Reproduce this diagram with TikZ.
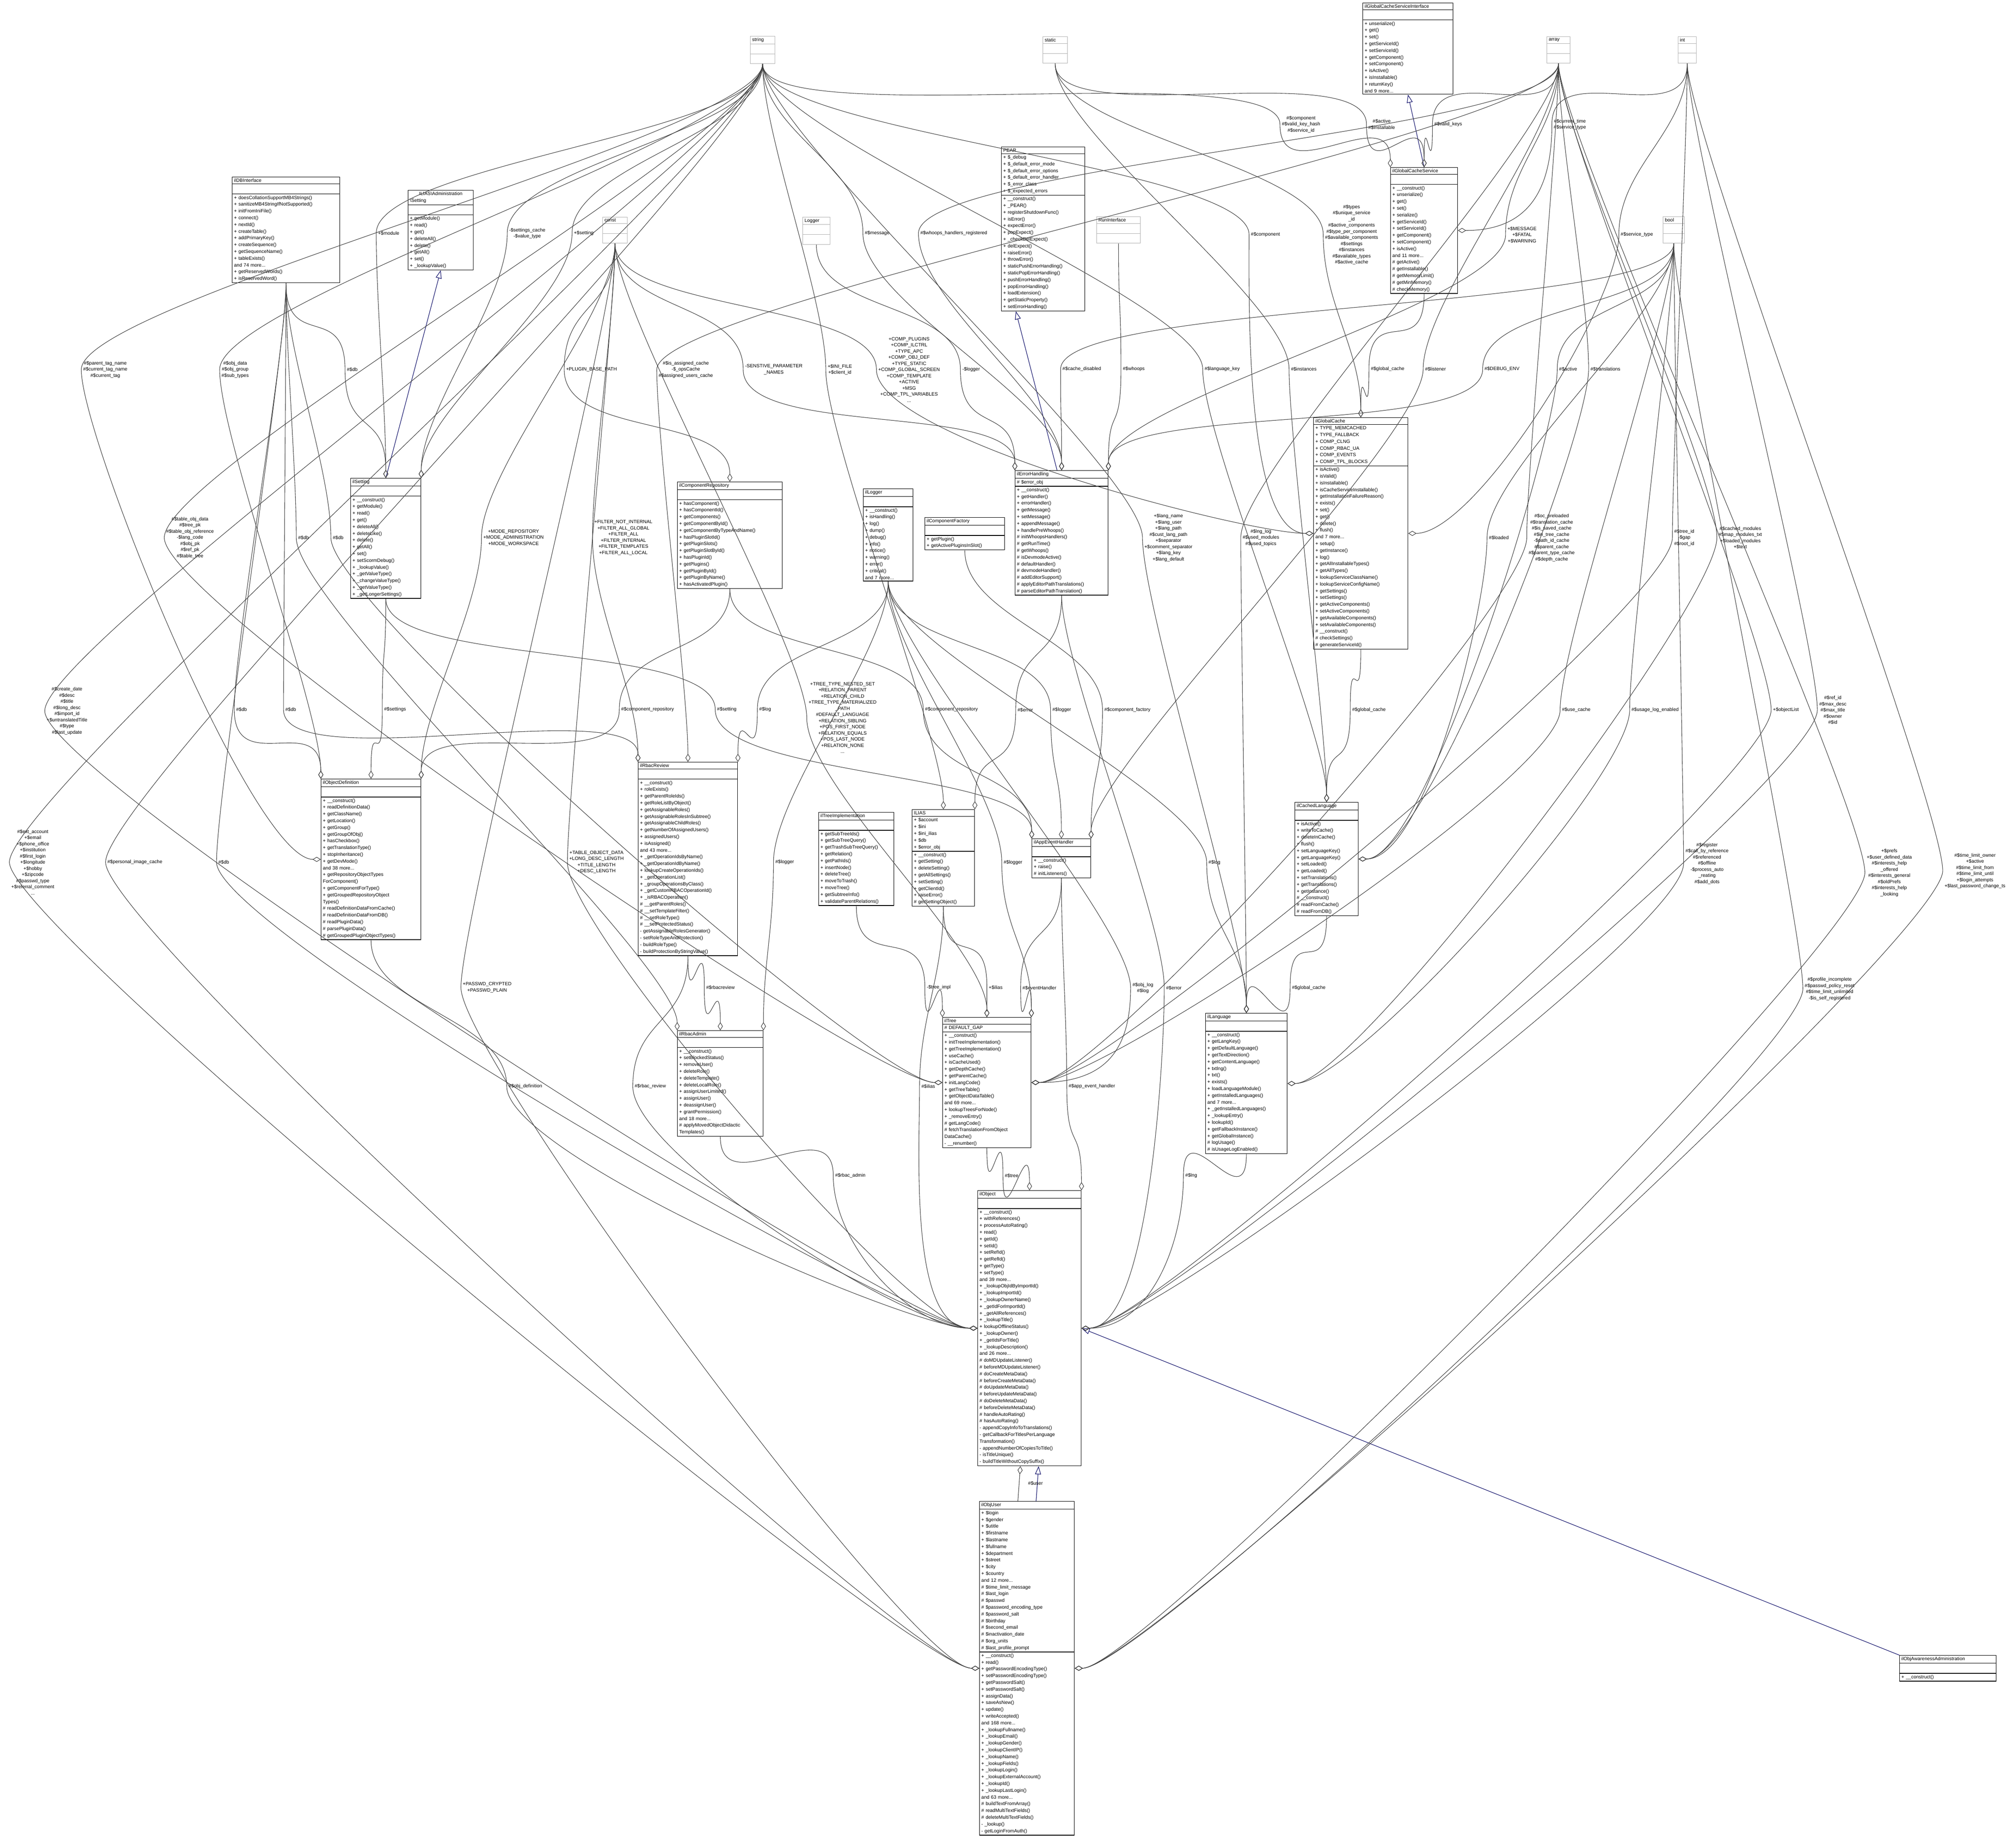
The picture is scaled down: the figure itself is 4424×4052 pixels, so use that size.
\documentclass[tikz,border=0pt]{standalone}
\usepackage{fontspec}
\setmainfont{Liberation Sans}
\usetikzlibrary{shapes.multipart,arrows.meta}
\definecolor{edgec}{HTML}{404040}
\definecolor{inh}{HTML}{191970}
\tikzset{
 cls/.style={draw=black,line width=1.3pt,rectangle split,rectangle split parts=3,anchor=north west,inner xsep=4pt,inner ysep=3pt,font=\fontsize{10.5}{14.8}\selectfont,align=left,fill=white},
 typ/.style={cls,draw=gray!60,line width=1pt},
 lbl/.style={font=\fontsize{10.5}{13.5}\selectfont,align=center,inner sep=1pt},
 agg/.style={draw=edgec,line width=1.1pt,-{Diamond[open,length=18pt,width=11pt]}},
 inhe/.style={draw=inh,line width=1.2pt,-{Triangle[open,length=18pt,width=13pt]}},
}
\newcommand{\cls}[8][cls]{\node[#1,text width=#5pt] (#2) at (#3,-#4) {\centering #6\nodepart{two}#7\nodepart{three}#8};}
\newcommand{\ed}[7]{\node[lbl] (#4) at (#5,-#6) {#7};\draw[agg] (#1) .. controls +(0,-150) and +(0,150) .. ([xshift=-3pt]#4.west) .. controls +(0,-150) and +(#3) .. (#2);}
\begin{document}
\begin{tikzpicture}[x=1pt,y=1pt]
\path[use as bounding box,fill=white] (0,0) rectangle (4424,-4052);
% type boxes
\cls[typ]{string}{1646}{79}{46}{string}{\strut}{\strut}
\cls[typ]{static}{2288}{80}{46}{static}{\strut}{\strut}
\cls[typ]{array}{3394}{80}{43}{array}{\strut}{\strut}
\cls[typ]{int}{3682}{80}{32}{int}{\strut}{\strut}
\cls[typ]{const}{1322}{476}{46}{const}{\strut}{\strut}
\cls[typ]{Logger}{1761}{476}{52}{Logger}{\strut}{\strut}
\cls[typ]{RunInterface}{2406}{475}{88}{RunInterface}{\strut}{\strut}
\cls[typ]{bool}{3649}{475}{39}{bool}{\strut}{\strut}
% classes
\cls{IGCSI}{2990}{6}{190}{ilGlobalCacheServiceInterface}{\strut}{+ unserialize()\\+ get()\\+ set()\\+ getServiceId()\\+ setServiceId()\\+ getComponent()\\+ setComponent()\\+ isActive()\\+ isInstallable()\\+ returnKey()\\and 9 more...}
\cls{PEAR}{2197}{322}{175}{PEAR}{+ \$\_debug\\+ \$\_default\_error\_mode\\+ \$\_default\_error\_options\\+ \$\_default\_error\_handler\\+ \$\_error\_class\\+ \$\_expected\_errors}{+ \_\_construct()\\+ \_PEAR()\\+ registerShutdownFunc()\\+ isError()\\+ expectError()\\+ popExpect()\\+ \_checkDelExpect()\\+ delExpect()\\+ raiseError()\\+ throwError()\\+ staticPushErrorHandling()\\+ staticPopErrorHandling()\\+ pushErrorHandling()\\+ popErrorHandling()\\+ loadExtension()\\+ getStaticProperty()\\+ setErrorHandling()}
\cls{IDBInterface}{509}{388}{228}{ilDBInterface}{\strut}{+ doesCollationSupportMB4Strings()\\+ sanitizeMB4StringIfNotSupported()\\+ initFromIniFile()\\+ connect()\\+ nextId()\\+ createTable()\\+ addPrimaryKey()\\+ createSequence()\\+ getSequenceName()\\+ tableExists()\\and 74 more...\\+ getReservedWords()\\+ isReservedWord()}
\cls{Setting}{895}{417}{135}{ILIAS\textbackslash Administration\\\textbackslash Setting}{\strut}{+ getModule()\\+ read()\\+ get()\\+ deleteAll()\\+ delete()\\+ getAll()\\+ set()\\+ \_lookupValue()}
\cls{ilGlobalCacheService}{3051}{367}{139}{ilGlobalCacheService}{\strut}{+ \_\_construct()\\+ unserialize()\\+ get()\\+ set()\\+ serialize()\\+ getServiceId()\\+ setServiceId()\\+ getComponent()\\+ setComponent()\\+ isActive()\\and 11 more...\\\# getActive()\\\# getInstallable()\\\# getMemoryLimit()\\\# getMinMemory()\\\# checkMemory()}
\cls{ilSetting}{769}{1049}{146}{ilSetting}{\strut}{+ \_\_construct()\\+ getModule()\\+ read()\\+ get()\\+ deleteAll()\\+ deleteLike()\\+ delete()\\+ getAll()\\+ set()\\+ setScormDebug()\\+ \_lookupValue()\\+ \_getValueType()\\+ \_changeValueType()\\+ \_getValueType()\\+ \_getLongerSettings()}
\cls{ilComponentRepository}{1486}{1057}{222}{ilComponentRepository}{\strut}{+ hasComponent()\\+ hasComponentId()\\+ getComponents()\\+ getComponentById()\\+ getComponentByTypeAndName()\\+ hasPluginSlotId()\\+ getPluginSlots()\\+ getPluginSlotById()\\+ hasPluginId()\\+ getPlugins()\\+ getPluginById()\\+ getPluginByName()\\+ hasActivatedPlugin()}
\cls{ilLogger}{1894}{1072}{101}{ilLogger}{\strut}{+ \_\_construct()\\+ isHandling()\\+ log()\\+ dump()\\+ debug()\\+ info()\\+ notice()\\+ warning()\\+ error()\\+ critical()\\and 7 more...}
\cls{ilComponentFactory}{2029}{1135}{167}{ilComponentFactory}{\strut}{+ getPlugin()\\+ getActivePluginsInSlot()}
\cls{ilErrorHandling}{2227}{1032}{196}{ilErrorHandling}{\# \$error\_obj}{+ \_\_construct()\\+ getHandler()\\+ errorHandler()\\+ getMessage()\\+ setMessage()\\+ appendMessage()\\+ handlePreWhoops()\\\# initWhoopsHandlers()\\\# getRunTime()\\\# getWhoops()\\\# isDevmodeActive()\\\# defaultHandler()\\\# devmodeHandler()\\\# addEditorSupport()\\\# applyEditorPathTranslations()\\\# parseEditorPathTranslation()}
\cls{ilGlobalCache}{2882}{916}{199}{ilGlobalCache}{+ TYPE\_MEMCACHED\\+ TYPE\_FALLBACK\\+ COMP\_CLNG\\+ COMP\_RBAC\_UA\\+ COMP\_EVENTS\\+ COMP\_TPL\_BLOCKS}{+ isActive()\\+ isValid()\\+ isInstallable()\\+ isCacheServiceInstallable()\\+ getInstallationFailureReason()\\+ exists()\\+ set()\\+ get()\\+ delete()\\+ flush()\\and 7 more...\\+ setup()\\+ getInstance()\\+ log()\\+ getAllInstallableTypes()\\+ getAllTypes()\\+ lookupServiceClassName()\\+ lookupServiceConfigName()\\+ getSettings()\\+ setSettings()\\+ getActiveComponents()\\+ setActiveComponents()\\+ getAvailableComponents()\\+ setAvailableComponents()\\\# \_\_construct()\\\# checkSettings()\\\# generateServiceId()}
\cls{ilObjectDefinition}{704}{1709}{211}{ilObjectDefinition}{\strut}{+ \_\_construct()\\+ readDefinitionData()\\+ getClassName()\\+ getLocation()\\+ getGroup()\\+ getGroupOfObj()\\+ hasCheckbox()\\+ getTranslationType()\\+ stopInheritance()\\+ getDevMode()\\and 38 more...\\+ getRepositoryObjectTypes\\ForComponent()\\+ getComponentForType()\\+ getGroupedRepositoryObject\\Types()\\\# readDefinitionDataFromCache()\\\# readDefinitionDataFromDB()\\\# readPluginData()\\\# parsePluginData()\\\# getGroupedPluginObjectTypes()}
\cls{ilRbacReview}{1400}{1672}{210}{ilRbacReview}{\strut}{+ \_\_construct()\\+ roleExists()\\+ getParentRoleIds()\\+ getRoleListByObject()\\+ getAssignableRoles()\\+ getAssignableRolesInSubtree()\\+ getAssignableChildRoles()\\+ getNumberOfAssignedUsers()\\+ assignedUsers()\\+ isAssigned()\\and 43 more...\\+ \_getOperationIdsByName()\\+ \_getOperationIdByName()\\+ lookupCreateOperationIds()\\+ \_getOperationList()\\+ \_groupOperationsByClass()\\+ \_getCustomRBACOperationId()\\+ \_isRBACOperation()\\\# \_\_getParentRoles()\\\# \_\_setTemplateFilter()\\\# \_\_setRoleType()\\\# \_\_setProtectedStatus()\\- getAssignableRolesGenerator()\\- setRoleTypeAndProtection()\\- buildRoleType()\\- buildProtectionByStringValue()}
\cls{ilTreeImplementation}{1796}{1782}{157}{ilTreeImplementation}{\strut}{+ getSubTreeIds()\\+ getSubTreeQuery()\\+ getTrashSubTreeQuery()\\+ getRelation()\\+ getPathIds()\\+ insertNode()\\+ deleteTree()\\+ moveToTrash()\\+ moveTree()\\+ getSubtreeInfo()\\+ validateParentRelations()}
\cls{ILIAS}{2001}{1776}{129}{ILIAS}{+ \$account\\+ \$ini\\+ \$ini\_ilias\\+ \$db\\+ \$error\_obj}{+ \_\_construct()\\+ getSetting()\\+ deleteSetting()\\+ getAllSettings()\\+ setSetting()\\+ getClientId()\\+ raiseError()\\\# getSettingObject()}
\cls{ilAppEventHandler}{2264}{1840}{121}{ilAppEventHandler}{\strut}{+ \_\_construct()\\+ raise()\\\# initListeners()}
\cls{ilCachedLanguage}{2841}{1760}{131}{ilCachedLanguage}{\strut}{+ isActive()\\+ writeToCache()\\+ deleteInCache()\\+ flush()\\+ setLanguageKey()\\+ getLanguageKey()\\+ setLoaded()\\+ getLoaded()\\+ setTranslations()\\+ getTranslations()\\+ getInstance()\\\# \_\_construct()\\\# readFromCache()\\\# readFromDB()}
\cls{ilRbacAdmin}{1486}{2261}{180}{ilRbacAdmin}{\strut}{+ \_\_construct()\\+ setBlockedStatus()\\+ removeUser()\\+ deleteRole()\\+ deleteTemplate()\\+ deleteLocalRole()\\+ assignUserLimited()\\+ assignUser()\\+ deassignUser()\\+ grantPermission()\\and 18 more...\\\# applyMovedObjectDidactic\\Templates()}
\cls{ilTree}{2068}{2232}{186}{ilTree}{\# DEFAULT\_GAP}{+ \_\_construct()\\+ initTreeImplementation()\\+ getTreeImplementation()\\+ useCache()\\+ isCacheUsed()\\+ getDepthCache()\\+ getParentCache()\\+ initLangCode()\\+ getTreeTable()\\+ getObjectDataTable()\\and 69 more...\\+ lookupTreesForNode()\\+ \_removeEntry()\\\# getLangCode()\\\# fetchTranslationFromObject\\DataCache()\\- \_\_renumber()}
\cls{ilLanguage}{2645}{2223}{171}{ilLanguage}{\strut}{+ \_\_construct()\\+ getLangKey()\\+ getDefaultLanguage()\\+ getTextDirection()\\+ getContentLanguage()\\+ txtlng()\\+ txt()\\+ exists()\\+ loadLanguageModule()\\+ getInstalledLanguages()\\and 7 more...\\+ \_getInstalledLanguages()\\+ \_lookupEntry()\\+ lookupId()\\+ getFallbackInstance()\\+ getGlobalInstance()\\\# logUsage()\\\# isUsageLogEnabled()}
\cls{ilObject}{2145}{2612}{219}{ilObject}{\strut}{+ \_\_construct()\\+ withReferences()\\+ processAutoRating()\\+ read()\\+ getId()\\+ setId()\\+ setRefId()\\+ getRefId()\\+ getType()\\+ setType()\\and 39 more...\\+ \_lookupObjIdByImportId()\\+ \_lookupImportId()\\+ \_lookupOwnerName()\\+ \_getIdForImportId()\\+ \_getAllReferences()\\+ \_lookupTitle()\\+ lookupOfflineStatus()\\+ \_lookupOwner()\\+ \_getIdsForTitle()\\+ \_lookupDescription()\\and 26 more...\\\# doMDUpdateListener()\\\# beforeMDUpdateListener()\\\# doCreateMetaData()\\\# beforeCreateMetaData()\\\# doUpdateMetaData()\\\# beforeUpdateMetaData()\\\# doDeleteMetaData()\\\# beforeDeleteMetaData()\\\# handleAutoRating()\\\# hasAutoRating()\\- appendCopyInfoToTranslations()\\- getCallbackForTitlesPerLanguage\\Transformation()\\- appendNumberOfCopiesToTitle()\\- isTitleUnique()\\- buildTitleWithoutCopySuffix()}
\cls{ilObjUser}{2149}{3294}{200}{ilObjUser}{+ \$login\\+ \$gender\\+ \$utitle\\+ \$firstname\\+ \$lastname\\+ \$fullname\\+ \$department\\+ \$street\\+ \$city\\+ \$country\\and 12 more...\\\# \$time\_limit\_message\\\# \$last\_login\\\# \$passwd\\\# \$password\_encoding\_type\\\# \$password\_salt\\\# \$birthday\\\# \$second\_email\\\# \$inactivation\_date\\\# \$org\_units\\\# \$last\_profile\_prompt}{+ \_\_construct()\\+ read()\\+ getPasswordEncodingType()\\+ setPasswordEncodingType()\\+ getPasswordSalt()\\+ setPasswordSalt()\\+ assignData()\\+ saveAsNew()\\+ update()\\+ writeAccepted()\\and 168 more...\\+ \_lookupFullname()\\+ \_lookupEmail()\\+ \_lookupGender()\\+ \_lookupClientIP()\\+ \_lookupName()\\+ \_lookupFields()\\+ \_lookupLogin()\\+ \_lookupExternalAccount()\\+ \_lookupId()\\+ \_lookupLastLogin()\\and 63 more...\\\# buildTextFromArray()\\\# readMultiTextFields()\\\# deleteMultiTextFields()\\- \_lookup()\\- getLoginFromAuth()}
\cls{ilObjAwarenessAdministration}{4168}{3632}{204}{ilObjAwarenessAdministration}{\strut}{+ \_\_construct()}
% inheritance
\draw[inhe] (ilSetting.north) -- (Setting.south);
\draw[inhe] (ilGlobalCacheService.north) -- (IGCSI.south);
\draw[inhe] ([xshift=-10pt]ilErrorHandling.north) -- ([xshift=-60pt]PEAR.south);
\draw[inhe] ([xshift=20pt]ilObjUser.north) -- ([xshift=20pt]ilObject.south);
\draw[inhe] (ilObjAwarenessAdministration.north west) -- (ilObject.east);
% aggregation
\ed{string.south}{ilObjUser.west}{-150,0}{l1}{72}{1892}{\#\$ext\_account\\+\$email\\+\$phone\_office\\+\$institution\\\#\$first\_login\\+\$longitude\\+\$hobby\\+\$zipcode\\\#\$passwd\_type\\+\$referral\_comment\\...}
\ed{string.south}{ilObject.west}{-150,0}{l2}{147}{1560}{\#\$create\_date\\\#\$desc\\\#\$title\\\#\$long\_desc\\\#\$import\_id\\+\$untranslatedTitle\\\#\$type\\\#\$last\_update}
\ed{string.south}{ilObjectDefinition.west}{-150,0}{l3}{231}{811}{\#\$parent\_tag\_name\\\#\$current\_tag\_name\\\#\$current\_tag}
\ed{string.south}{ilObjectDefinition.north west}{0,150}{l4}{516}{811}{\#\$obj\_data\\\#\$obj\_group\\\#\$sub\_types}
\ed{IDBInterface.south}{ilSetting.north}{0,150}{l5}{773}{811}{\#\$db}
\ed{string.south}{ilSetting.north}{0,150}{l6}{853}{512}{+\$module}
\ed{string.south}{ilSetting.north east}{0,150}{l7}{1157}{512}{-\$settings\_cache\\-\$value\_type}
\ed{string.south}{ilSetting.north east}{0,150}{l8}{1281}{512}{+\$setting}
\ed{string.south}{ilTree.west}{-150,0}{l9}{417}{1180}{\#\$table\_obj\_data\\\#\$tree\_pk\\\#\$table\_obj\_reference\\-\$lang\_code\\\#\$obj\_pk\\\#\$ref\_pk\\\#\$table\_tree}
\ed{IDBInterface.south}{ilRbacAdmin.north west}{0,150}{l10}{666}{1180}{\#\$db}
\ed{IDBInterface.south}{ilTree.west}{-150,0}{l11}{742}{1180}{\#\$db}
\ed{const.south}{ilObjectDefinition.north east}{0,150}{l12}{1127}{1180}{+MODE\_REPOSITORY\\+MODE\_ADMINISTRATION\\+MODE\_WORKSPACE}
\ed{const.south}{ilComponentRepository.north}{0,150}{l13}{1298}{811}{+PLUGIN\_BASE\_PATH}
\ed{const.south}{ilRbacReview.north west}{0,150}{l14}{1368}{1180}{+FILTER\_NOT\_INTERNAL\\+FILTER\_ALL\_GLOBAL\\+FILTER\_ALL\\+FILTER\_INTERNAL\\+FILTER\_TEMPLATES\\+FILTER\_ALL\_LOCAL}
\ed{array.south}{ilRbacReview.north}{0,150}{l15}{1505}{811}{\#\$is\_assigned\_cache\\-\$\_opsCache\\\#\$assigned\_users\_cache}
\ed{const.south}{ilErrorHandling.north west}{0,150}{l16}{1698}{811}{-SENSTIVE\_PARAMETER\\\_NAMES}
\ed{string.south}{ILIAS.north}{0,150}{l17}{1843}{811}{+\$INI\_FILE\\+\$client\_id}
\ed{const.south}{ilGlobalCache.west}{-150,0}{l18}{1995}{811}{+COMP\_PLUGINS\\+COMP\_ILCTRL\\+TYPE\_APC\\+COMP\_OBJ\_DEF\\+TYPE\_STATIC\\+COMP\_GLOBAL\_SCREEN\\+COMP\_TEMPLATE\\+ACTIVE\\+MSG\\+COMP\_TPL\_VARIABLES\\...}
\ed{Logger.south}{ilErrorHandling.north west}{0,150}{l19}{2131}{811}{-\$logger}
\ed{string.south}{ilErrorHandling.north}{0,150}{l20}{1925}{512}{\#\$message}
\ed{array.south}{ilErrorHandling.north}{0,150}{l21}{2093}{512}{\#\$whoops\_handlers\_registered}
\ed{bool.south}{ilErrorHandling.north}{0,150}{l22}{2374}{810}{\#\$cache\_disabled}
\ed{RunInterface.south}{ilErrorHandling.north east}{0,150}{l23}{2488}{810}{\#\$whoops}
\ed{string.south}{ilGlobalCacheService.north west}{0,150}{l24}{2855}{273}{\#\$component\\\#\$valid\_key\_hash\\\#\$service\_id}
\ed{static.south}{ilGlobalCacheService.north}{0,150}{l25}{3032}{273}{\#\$active\\\#\$installable}
\ed{array.south}{ilGlobalCacheService.north}{0,150}{l26}{3178}{273}{\#\$valid\_keys}
\ed{int.south}{ilGlobalCacheService.east}{150,0}{l27}{3445}{273}{\#\$current\_time\\\#\$service\_type}
\ed{static.south}{ilGlobalCache.north}{0,150}{l28}{2966}{515}{\#\$types\\\#\$unique\_service\\\_id\\\#\$active\_components\\\#\$type\_per\_component\\\#\$available\_components\\\#\$settings\\\#\$instances\\\#\$available\_types\\\#\$active\_cache}
\ed{string.south}{ilGlobalCache.west}{-150,0}{l29}{2777}{515}{\#\$component}
\ed{int.south}{ilGlobalCache.east}{150,0}{l30}{3592}{515}{\#\$service\_type}
\ed{ilGlobalCacheService.south}{ilGlobalCache.north}{0,150}{l31}{3045}{810}{\#\$global\_cache}
\ed{string.south}{ilCachedLanguage.north}{0,150}{l32}{2682}{810}{\#\$language\_key}
\ed{static.south}{ilCachedLanguage.north}{0,150}{l33}{2861}{810}{\#\$instances}
\ed{array.south}{ilErrorHandling.north east}{0,150}{l34}{3340}{515}{+\$MESSAGE\\+\$FATAL\\+\$WARNING}
\ed{array.south}{ilAppEventHandler.north east}{0,150}{l35}{3150}{810}{\#\$listener}
\ed{bool.south}{ilErrorHandling.north east}{0,150}{l36}{3296}{810}{\#\$DEBUG\_ENV}
\ed{bool.south}{ilCachedLanguage.east}{150,0}{l37}{3441}{810}{\#\$active}
\ed{array.south}{ilCachedLanguage.east}{150,0}{l38}{3523}{810}{\#\$translations}
\ed{string.south}{ilLanguage.north}{0,150}{l39}{2564}{1180}{+\$lang\_name\\+\$lang\_user\\+\$lang\_path\\\#\$cust\_lang\_path\\+\$separator\\+\$comment\_separator\\+\$lang\_key\\+\$lang\_default}
\ed{array.south}{ilLanguage.north}{0,150}{l40}{2767}{1180}{\#\$lng\_log\\\#\$used\_modules\\\#\$used\_topics}
\ed{bool.south}{ilCachedLanguage.east}{150,0}{l41}{3289}{1180}{\#\$loaded}
\ed{array.south}{ilTree.east}{150,0}{l42}{3405}{1180}{\#\$oc\_preloaded\\\#\$translation\_cache\\\#\$is\_saved\_cache\\\#\$in\_tree\_cache\\-\$path\_id\_cache\\\#\$parent\_cache\\\#\$parent\_type\_cache\\\#\$depth\_cache}
\ed{int.south}{ilTree.east}{150,0}{l43}{3696}{1180}{\#\$tree\_id\\-\$gap\\\#\$root\_id}
\ed{array.south}{ilLanguage.east}{150,0}{l44}{3819}{1180}{\#\$cached\_modules\\\#\$map\_modules\_txt\\+\$loaded\_modules\\+\$text}
\ed{ilErrorHandling.south}{ILIAS.north east}{0,150}{l45}{2250}{1558}{\#\$error}
\ed{ilLogger.south}{ilAppEventHandler.north}{0,150}{l46}{2330}{1558}{\#\$logger}
\ed{ilComponentFactory.south}{ilAppEventHandler.north east}{0,150}{l47}{2474}{1558}{\#\$component\_factory}
\ed{ilGlobalCache.south}{ilCachedLanguage.north}{0,150}{l48}{3004}{1558}{\#\$global\_cache}
\ed{bool.south}{ilTree.east}{150,0}{l49}{3459}{1558}{\#\$use\_cache}
\ed{bool.south}{ilLanguage.east}{150,0}{l50}{3632}{1558}{\#\$usage\_log\_enabled}
\ed{array.south}{ilObject.east}{150,0}{l51}{3919}{1558}{+\$objectList}
\ed{int.south}{ilObject.east}{150,0}{l52}{4022}{1558}{\#\$ref\_id\\\#\$max\_desc\\\#\$max\_title\\\#\$owner\\\#\$id}
\ed{ilSetting.south}{ilObjectDefinition.north}{0,150}{l53}{867}{1557}{\#\$settings}
\ed{ilComponentRepository.south}{ilObjectDefinition.north east}{0,150}{l54}{1421}{1557}{\#\$component\_repository}
\ed{ilSetting.south}{ilAppEventHandler.north west}{0,150}{l55}{1595}{1557}{\#\$setting}
\ed{ilLogger.south}{ilRbacReview.north east}{0,150}{l56}{1679}{1557}{\#\$log}
\ed{const.south}{ilTree.north}{0,150}{l57}{1849}{1575}{+TREE\_TYPE\_NESTED\_SET\\+RELATION\_PARENT\\+RELATION\_CHILD\\+TREE\_TYPE\_MATERIALIZED\\\_PATH\\\#DEFAULT\_LANGUAGE\\+RELATION\_SIBLING\\+POS\_FIRST\_NODE\\+RELATION\_EQUALS\\+POS\_LAST\_NODE\\+RELATION\_NONE\\...}
\ed{ilComponentRepository.south}{ilAppEventHandler.north west}{0,150}{l58}{2088}{1557}{\#\$component\_repository}
\ed{ilLogger.south}{ilTree.north east}{0,150}{l59}{2223}{1893}{\#\$logger}
\ed{ilLogger.south}{ilRbacAdmin.north east}{0,150}{l60}{1722}{1892}{\#\$logger}
\ed{ilLogger.south}{ilLanguage.north}{0,150}{l61}{2665}{1893}{\#\$log}
\ed{const.south}{ilObject.west}{-150,0}{l62}{1309}{1892}{+TABLE\_OBJECT\_DATA\\+LONG\_DESC\_LENGTH\\+TITLE\_LENGTH\\+DESC\_LENGTH}
\ed{const.south}{ilObjUser.west}{-150,0}{l63}{1069}{2167}{+PASSWD\_CRYPTED\\+PASSWD\_PLAIN}
\ed{string.south}{ilObjUser.west}{-150,0}{l64}{296}{1892}{\#\$personal\_image\_cache}
\ed{IDBInterface.south}{ilObject.west}{-150,0}{l65}{491}{1892}{\#\$db}
\ed{IDBInterface.south}{ilObjectDefinition.north west}{0,150}{l66}{530}{1557}{\#\$db}
\ed{IDBInterface.south}{ilRbacReview.north west}{0,150}{l67}{638}{1557}{\#\$db}
\ed{ilRbacReview.south}{ilRbacAdmin.north}{0,150}{l68}{1581}{2167}{\#\$rbacreview}
\ed{ilTreeImplementation.south}{ilTree.north west}{0,150}{l69}{2060}{2167}{-\$tree\_impl}
\ed{ILIAS.south}{ilTree.north}{0,150}{l70}{2185}{2167}{+\$ilias}
\ed{ilAppEventHandler.south}{ilTree.north east}{0,150}{l71}{2281}{2168}{\#\$eventHandler}
\ed{ilLogger.south}{ilTree.east}{150,0}{l72}{2508}{2168}{\#\$obj\_log\\\#\$log}
\ed{ilErrorHandling.south}{ilObject.east}{150,0}{l73}{2576}{2168}{\#\$error}
\ed{ilCachedLanguage.south}{ilLanguage.north}{0,150}{l74}{2872}{2168}{\#\$global\_cache}
\ed{ilObjectDefinition.south}{ilObject.west}{-150,0}{l75}{1153}{2384}{\#\$obj\_definition}
\ed{ilRbacReview.south}{ilObject.west}{-150,0}{l76}{1427}{2384}{\#\$rbac\_review}
\ed{ILIAS.south}{ilObject.west}{-150,0}{l77}{2037}{2384}{\#\$ilias}
\ed{ilAppEventHandler.south}{ilObject.north east}{0,150}{l78}{2396}{2384}{\#\$app\_event\_handler}
\ed{ilRbacAdmin.south}{ilObject.west}{-150,0}{l79}{1866}{2580}{\#\$rbac\_admin}
\ed{ilTree.south}{ilObject.north}{0,150}{l80}{2220}{2580}{\#\$tree}
\ed{ilLanguage.south}{ilObject.east}{150,0}{l81}{2614}{2580}{\#\$lng}
\ed{bool.south}{ilObject.east}{150,0}{l82}{3746}{1895}{\#\$register\\\#\$call\_by\_reference\\\#\$referenced\\\#\$offline\\-\$process\_auto\\\_reating\\\#\$add\_dots}
\ed{array.south}{ilObjUser.east}{150,0}{l83}{4146}{1915}{+\$prefs\\+\$user\_defined\_data\\\#\$interests\_help\\\_offered\\\#\$interests\_general\\\#\$oldPrefs\\\#\$interests\_help\\\_looking}
\ed{int.south}{ilObjUser.east}{150,0}{l84}{4334}{1911}{\#\$time\_limit\_owner\\+\$active\\\#\$time\_limit\_from\\\#\$time\_limit\_until\\+\$login\_attempts\\+\$last\_password\_change\_ts}
\ed{bool.south}{ilObjUser.east}{150,0}{l85}{4015}{2170}{\#\$profile\_incomplete\\\#\$passwd\_policy\_reset\\\#\$time\_limit\_unlimited\\-\$is\_self\_registered}
\node[lbl,anchor=west] (l86) at (2255,-3255) {\#\$user};
\draw[agg] ([xshift=-20pt]ilObjUser.north) -- ([xshift=-20pt]ilObject.south);
\end{tikzpicture}
\end{document}
